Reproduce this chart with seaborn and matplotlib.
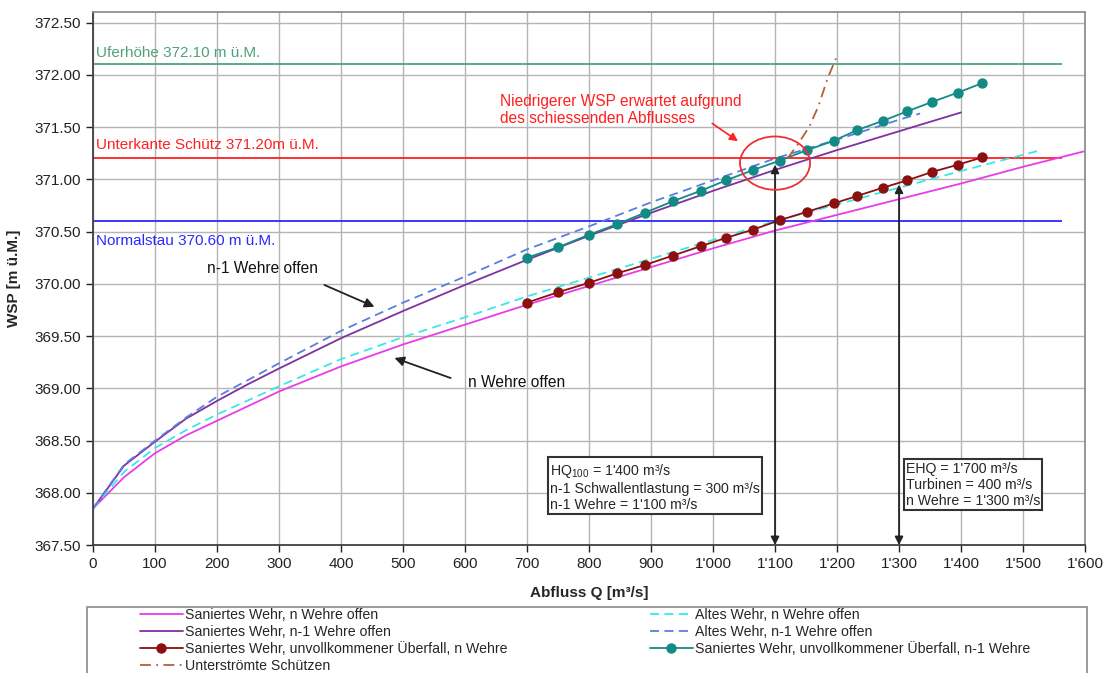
import numpy as np
import pandas as pd
import matplotlib.pyplot as plt
import seaborn as sns
from matplotlib.patches import Ellipse, Rectangle
from matplotlib.ticker import FuncFormatter, MultipleLocator

sns.set_style("whitegrid")
plt.rcParams['font.family'] = ['Liberation Sans', 'DejaVu Sans']
plt.rcParams['mathtext.fontset'] = 'custom'
plt.rcParams['mathtext.rm'] = 'Liberation Sans'

# Saniertes Wehr (solid lines)
q_san_n = [0, 50, 100, 150, 200, 300, 400, 500, 600, 700, 800, 900, 1000, 1100, 1200, 1300, 1400, 1500, 1600]
wsp_san_n = [367.85, 368.15, 368.38, 368.55, 368.69, 368.97, 369.21, 369.42, 369.61, 369.80, 369.98, 370.16,
             370.34, 370.51, 370.66, 370.81, 370.96, 371.12, 371.27]
q_san_n1 = [0, 50, 100, 150, 200, 250, 300, 400, 500, 600, 700, 800, 900, 1000, 1100, 1200, 1300, 1400]
wsp_san_n1 = [367.85, 368.26, 368.49, 368.71, 368.88, 369.04, 369.19, 369.48, 369.74, 369.99, 370.23, 370.46,
              370.68, 370.89, 371.09, 371.28, 371.46, 371.64]

# Altes Wehr (dashed lines)
q_alt_n = [0, 50, 100, 150, 200, 300, 400, 500, 600, 700, 800, 900, 1000, 1100, 1200, 1300, 1400, 1523]
wsp_alt_n = [367.85, 368.20, 368.43, 368.60, 368.75, 369.02, 369.28, 369.49, 369.68, 369.88, 370.06, 370.24,
             370.42, 370.60, 370.76, 370.92, 371.08, 371.27]
q_alt_n1 = [0, 50, 100, 150, 200, 300, 400, 500, 600, 700, 800, 900, 1000, 1100, 1200, 1300, 1334]
wsp_alt_n1 = [367.85, 368.27, 368.50, 368.72, 368.92, 369.24, 369.55, 369.82, 370.07, 370.33, 370.55, 370.78,
              370.99, 371.20, 371.38, 371.57, 371.63]

# unvollkommener Ueberfall (dotted series)
q_ueb = [700, 750, 800, 845, 890, 935, 980, 1021, 1065, 1108, 1152, 1195, 1232, 1274, 1313, 1353, 1395, 1434]
wsp_ueb_n = [369.82, 369.92, 370.01, 370.10, 370.18, 370.27, 370.36, 370.44, 370.52, 370.61, 370.69, 370.77,
             370.84, 370.92, 370.99, 371.07, 371.14, 371.21]
wsp_ueb_n1 = [370.25, 370.35, 370.47, 370.57, 370.68, 370.79, 370.89, 370.99, 371.09, 371.18, 371.28, 371.37,
              371.47, 371.56, 371.65, 371.74, 371.83, 371.92]

# Unterstroemte Schuetzen
q_schuetz = [1120, 1135, 1155, 1170, 1185, 1200]
wsp_schuetz = [371.20, 371.32, 371.50, 371.70, 371.97, 372.18]

# reference levels
levels = [372.10, 371.20, 370.60]
level_labels = ["Uferhöhe 372.10 m ü.M.", "Unterkante Schütz 371.20m ü.M.", "Normalstau 370.60 m ü.M."]
level_colors = ["#4ea27e", "#ff2020", "#2a2aff"]
level_label_y = [372.21, 371.33, 370.41]
level_end = 1563

fig = plt.figure(figsize=(11.14, 6.73), dpi=100)
ax = fig.add_axes([0.0835, 0.19, 0.8905, 0.792])

lw = 1.3
sns.lineplot(x=q_san_n, y=wsp_san_n, ax=ax, color="#e83ce8", lw=lw, label="Saniertes Wehr, n Wehre offen")
sns.lineplot(x=q_san_n1, y=wsp_san_n1, ax=ax, color="#8030a0", lw=lw, label="Saniertes Wehr, n-1 Wehre offen")
sns.lineplot(x=q_alt_n, y=wsp_alt_n, ax=ax, color="#38e8e8", lw=lw, linestyle=(0, (5, 3)),
             label="Altes Wehr, n Wehre offen")
sns.lineplot(x=q_alt_n1, y=wsp_alt_n1, ax=ax, color="#5a7ee0", lw=lw, linestyle=(0, (5, 3)),
             label="Altes Wehr, n-1 Wehre offen")
sns.lineplot(x=q_ueb, y=wsp_ueb_n, ax=ax, color="#8b1010", lw=lw, marker="o", markersize=7.5,
             markeredgewidth=0, label="Saniertes Wehr, unvollkommener Überfall, n Wehre")
sns.lineplot(x=q_ueb, y=wsp_ueb_n1, ax=ax, color="#148a86", lw=lw, marker="o", markersize=7.5,
             markeredgewidth=0, label="Saniertes Wehr, unvollkommener Überfall, n-1 Wehre")
sns.lineplot(x=q_schuetz, y=wsp_schuetz, ax=ax, color="#b0603a", lw=lw, linestyle=(0, (6, 3, 1, 3)),
             label="Unterströmte Schützen")

for lev, lab, col, ly in zip(levels, level_labels, level_colors, level_label_y):
    ax.hlines(lev, 0, level_end, color=col, lw=1.3, zorder=1.5)
    ax.text(5, ly, lab, color=col, fontsize=11, va="center", ha="left")

handles, labels = ax.get_legend_handles_labels()
if ax.legend_:
    ax.legend_.remove()

ax.set_xlim(0, 1600)
ax.set_ylim(367.5, 372.6)
ax.xaxis.set_major_locator(MultipleLocator(100))
ax.yaxis.set_major_locator(MultipleLocator(0.5))
ax.xaxis.set_major_formatter(FuncFormatter(lambda v, p: f"{int(v):,}".replace(",", "'")))
ax.yaxis.set_major_formatter(FuncFormatter(lambda v, p: f"{v:.2f}"))
ax.tick_params(axis="both", labelsize=11, colors="#222222", direction="out", length=5, width=1,
               left=True, bottom=True)
ax.grid(True, color="#b4b4b4", lw=1)
for s in ["left", "bottom"]:
    ax.spines[s].set_color("#404040")
    ax.spines[s].set_linewidth(1.3)
for s in ["top", "right"]:
    ax.spines[s].set_color("#909090")
    ax.spines[s].set_linewidth(1.3)

ax.set_xlabel("Abfluss Q [m³/s]", fontsize=11, fontweight="bold", labelpad=11)
ax.set_ylabel("WSP [m ü.M.]", fontsize=11, fontweight="bold", labelpad=10)

# remark on the red circle
ax.add_patch(Ellipse((1100, 371.155), 113, 0.51, fill=False, ec="#ee3030", lw=1.3, zorder=5))
ax.text(656, 371.66, "Niedrigerer WSP erwartet aufgrund\ndes schiessenden Abflusses", color="#ff2020",
        fontsize=11.2, va="center", ha="left", linespacing=1.15)
ax.annotate("", xy=(1044, 371.35), xytext=(995, 371.55),
            arrowprops=dict(arrowstyle="-|>", color="#ff2020", lw=1.2, mutation_scale=12))

# labels for curve groups
ax.text(184, 370.15, "n-1 Wehre offen", fontsize=11.2, va="center", ha="left", color="#111111")
ax.annotate("", xy=(458, 369.77), xytext=(369, 370.0),
            arrowprops=dict(arrowstyle="-|>", color="#222222", lw=1.3, mutation_scale=14))
ax.text(605, 369.06, "n Wehre offen", fontsize=11.2, va="center", ha="left", color="#111111")
ax.annotate("", xy=(482, 369.30), xytext=(581, 369.09),
            arrowprops=dict(arrowstyle="-|>", color="#222222", lw=1.3, mutation_scale=14))

# discharge markers
for qv, top in [(1100, 371.14), (1300, 370.95)]:
    ax.annotate("", xy=(qv, top), xytext=(qv, 367.5),
                arrowprops=dict(arrowstyle="<|-|>", color="#222222", lw=1.3, mutation_scale=12,
                                shrinkA=0, shrinkB=0))

box = dict(boxstyle="square,pad=0.15", fc="white", ec="#333333", lw=1.5)
ax.text(737, 368.30, "HQ$_{100}$ = 1'400 m³/s\nn-1 Schwallentlastung = 300 m³/s\nn-1 Wehre = 1'100 m³/s",
        fontsize=10.2, va="top", ha="left", bbox=box, linespacing=1.2, zorder=6)
ax.text(1311, 368.30, "EHQ = 1'700 m³/s\nTurbinen = 400 m³/s\nn Wehre = 1'300 m³/s",
        fontsize=10.2, va="top", ha="left", bbox=box, linespacing=1.2, zorder=6)

# legend in two columns inside one frame
order1 = [0, 1, 4, 6]
order2 = [2, 3, 5]
kw = dict(frameon=False, fontsize=10.2, borderpad=0, borderaxespad=0, handlelength=3.0,
          handletextpad=0.15, labelspacing=0.2, loc="upper left")
fig.legend([handles[i] for i in order1], [labels[i] for i in order1],
           bbox_to_anchor=(140 / 1114, 1 - 608 / 673), **kw)
fig.legend([handles[i] for i in order2], [labels[i] for i in order2],
           bbox_to_anchor=(650 / 1114, 1 - 608 / 673), **kw)
fig.patches.append(Rectangle((87 / 1114, -0.03), 1000 / 1114, 0.03 + 1 - 607 / 673,
                             transform=fig.transFigure, fill=False, ec="#8a8a8a", lw=1.2))

fig.savefig("out.png", dpi=100)
